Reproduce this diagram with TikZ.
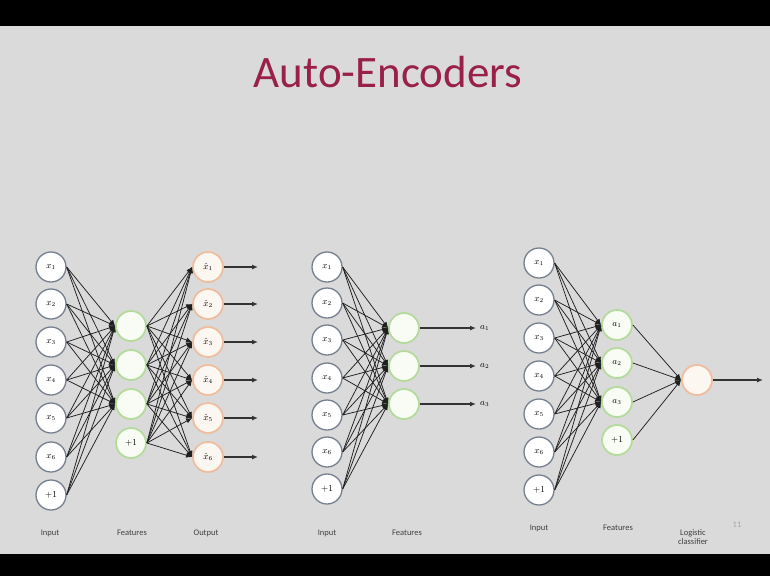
\documentclass[tikz,border=0pt]{standalone}
\usepackage{fontspec}
\setmainfont{Carlito}
\usetikzlibrary{arrows.meta}
\definecolor{bg}{HTML}{DADADA}
\definecolor{titlecol}{HTML}{992048}
\definecolor{inborder}{HTML}{76808E}
\definecolor{hidborder}{HTML}{B5DB9C}
\definecolor{hidfill}{HTML}{F8FCF4}
\definecolor{outborder}{HTML}{EFBE9E}
\definecolor{outfill}{HTML}{FDF7F2}
\tikzset{
  innode/.style={circle, draw=inborder, line width=1.3pt, fill=white, minimum size=30pt, inner sep=0pt, font=\fontsize{9}{9}\selectfont},
  hidnode/.style={circle, draw=hidborder, line width=1.8pt, fill=hidfill, minimum size=30pt, inner sep=0pt, font=\fontsize{9}{9}\selectfont},
  outnode/.style={circle, draw=outborder, line width=1.8pt, fill=outfill, minimum size=30pt, inner sep=0pt, font=\fontsize{9}{9}\selectfont},
  conn/.style={draw=black!88, line width=0.75pt, -{Latex[length=6pt,width=5pt]}},
  outarrow/.style={draw=black!80, line width=1.4pt, -{Latex[length=6pt,width=5pt]}},
  caption/.style={font=\fontsize{8.5}{9.5}\selectfont, text=black!75, align=center},
}
\begin{document}
\begin{tikzpicture}[x=1pt,y=-1pt]
\fill[bg] (0,0) rectangle (770,576);
\fill[black] (0,0) rectangle (770,26);
\fill[black] (0,554) rectangle (770,576);
\useasboundingbox (0,0) rectangle (770,576);

\node[anchor=base, text=titlecol, font=\fontsize{45}{45}\selectfont] (title) at (388,87) {Auto-Encoders};

% ---------------- Network 1 ----------------
\foreach \i/\y/\t in {1/267/$x_1$,2/304/$x_2$,3/342/$x_3$,4/380/$x_4$,5/418/$x_5$,6/457/$x_6$,7/495/$+1$}
  \node[innode] (A\i) at (51,\y) {\t};
\foreach \j/\y/\t in {1/326/{},2/365/{},3/404/{},4/443/$+1$}
  \node[hidnode] (AH\j) at (131,\y) {\t};
\foreach \k/\y/\t in {1/267/$\hat{x}_1$,2/304/$\hat{x}_2$,3/342/$\hat{x}_3$,4/380/$\hat{x}_4$,5/418/$\hat{x}_5$,6/457/$\hat{x}_6$}
  \node[outnode] (AO\k) at (208,\y) {\t};
\foreach \k/\y in {1/267,2/304,3/342,4/380,5/418,6/457}
  \coordinate (AE\k) at (258,\y);
\foreach \i in {1,...,7}
  \foreach \j in {1,2,3}
    \draw[conn] (A\i.east) -- (AH\j.west);
\foreach \j in {1,...,4}
  \foreach \k in {1,...,6}
    \draw[conn] (AH\j.east) -- (AO\k.west);
\foreach \k in {1,...,6}
  \draw[outarrow] (AO\k.east) -- (AE\k);
\node[caption] (Acap1) at (50,533) {Input};
\node[caption] (Acap2) at (132,533) {Features};
\node[caption] (Acap3) at (206,533) {Output};

% ---------------- Network 2 ----------------
\foreach \i/\y/\t in {1/267/$x_1$,2/303/$x_2$,3/340/$x_3$,4/378/$x_4$,5/415/$x_5$,6/452/$x_6$,7/489/$+1$}
  \node[innode] (B\i) at (327,\y) {\t};
\foreach \j/\y in {1/328,2/366,3/404}
  \node[hidnode] (BH\j) at (404,\y) {};
\foreach \j/\y/\t in {1/328/$a_1$,2/366/$a_2$,3/404/$a_3$}
  \node[anchor=west, font=\fontsize{9}{9}\selectfont, inner sep=1pt] (BL\j) at (479,\y) {\t};
\foreach \i in {1,...,7}
  \foreach \j in {1,2,3}
    \draw[conn] (B\i.east) -- (BH\j.west);
\foreach \j in {1,2,3}
  \draw[outarrow] (BH\j.east) -- ([xshift=-3pt]BL\j.west);
\node[caption] (Bcap1) at (327,533) {Input};
\node[caption] (Bcap2) at (407,533) {Features};

% ---------------- Network 3 ----------------
\foreach \i/\y/\t in {1/263/$x_1$,2/300/$x_2$,3/338/$x_3$,4/376/$x_4$,5/414/$x_5$,6/452/$x_6$,7/490/$+1$}
  \node[innode] (C\i) at (539,\y) {\t};
\foreach \j/\y/\t in {1/325/$a_1$,2/363/$a_2$,3/402/$a_3$,4/440/$+1$}
  \node[hidnode] (CH\j) at (617,\y) {\t};
\node[outnode] (CL) at (697,380) {};
\coordinate (CE) at (763,380);
\foreach \i in {1,...,7}
  \foreach \j in {1,2,3}
    \draw[conn] (C\i.east) -- (CH\j.west);
\foreach \j in {1,...,4}
  \draw[conn] (CH\j.east) -- (CL.west);
\draw[outarrow] (CL.east) -- (CE);
\node[caption] (Ccap1) at (539,528) {Input};
\node[caption] (Ccap2) at (618,528) {Features};
\node[caption, anchor=north] (Ccap3) at (693,526) {Logistic\\classifier};
\node[caption, text=black!35] (pagenum) at (737,525) {11};
\end{tikzpicture}
\end{document}
